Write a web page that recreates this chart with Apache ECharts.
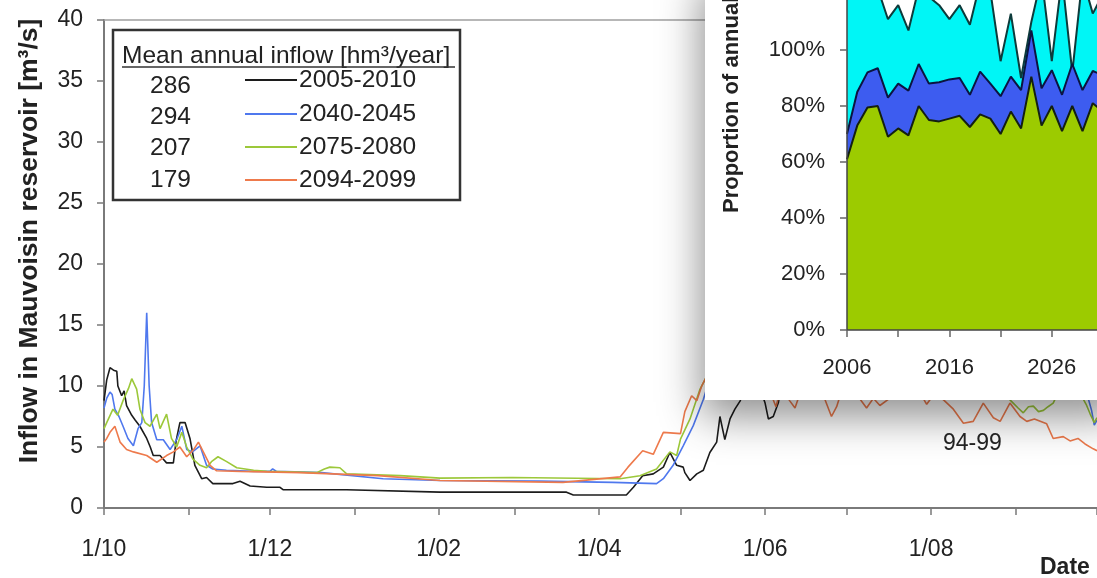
<!DOCTYPE html>
<html>
<head>
<meta charset="utf-8">
<script src="https://cdn.jsdelivr.net/npm/echarts@6/dist/echarts.min.js"></script>
<style>
html,body{margin:0;padding:0;background:#fff;}
#chart{width:1097px;height:578px;}
</style>
</head>
<body>
<div id="chart"></div>
<script>
// Days of the hydrological year (0 = 1 October) where each month starts
const monthStartDays = [0, 31, 61, 92, 123, 151, 182, 212, 243, 273, 304, 335, 365];
const dateLabelDays = [0, 61, 123, 182, 243, 304];
const dateLabels = ['1/10', '1/12', '1/02', '1/04', '1/06', '1/08'];

const periods = ['2005-2010', '2040-2045', '2075-2080', '2094-2099'];
const meanInflow = [286, 294, 207, 179];
const periodColors = ['#1c1c1c', '#4f78ee', '#9cc83a', '#ee7a4c'];

// Mean daily inflow [m3/s] as [day of hydrological year, value]
const flow2005 = [
  [0, 8.8], [1, 10.5], [2.2, 11.5], [3.5, 11.3], [4.7, 11.2], [5.1, 10.0], [6.5, 9.2], [7.4, 9.6],
  [8.3, 8.4], [10.2, 7.6], [11.5, 7.2], [13.2, 6.7], [15.7, 5.7], [17, 5.0], [18.1, 4.3], [20.6, 4.3],
  [21.8, 4.0], [23, 3.7], [25.5, 3.7], [26.5, 5.5], [27.9, 7.0], [29.8, 7.0], [31.6, 5.7], [33.4, 3.5],
  [35.9, 2.4], [37.7, 2.5], [40, 2.0], [44, 2.0], [47.4, 2.0], [50, 2.2], [53.7, 1.8], [59.8, 1.7],
  [64.7, 1.7], [65.8, 1.5], [89.2, 1.5], [89.7, 1.35], [123.5, 1.3], [170, 1.3], [172.5, 1.07],
  [192, 1.07], [194.6, 1.7], [198, 2.65], [201.9, 2.8], [205.6, 3.35], [208, 4.55], [210.5, 3.5],
  [212.9, 3.35], [213.5, 2.9], [215.4, 2.25], [217.9, 2.8], [220.3, 3.1], [222.7, 4.55], [225.2, 5.4],
  [226.4, 7.5], [228.2, 5.6], [230.1, 7.3], [231.9, 8.1], [233.9, 8.8], [236, 10.5], [238, 12],
  [240, 10.5], [243, 8.6], [244.2, 7.3], [246, 7.5], [247.9, 8.65], [250, 11.5], [253, 14], [256, 13],
  [259, 16], [262, 18], [266, 17], [270, 21], [274, 24], [278, 22], [282, 26], [286, 28], [290, 25],
  [294, 27], [298, 24], [302, 26], [306, 22], [310, 23], [314, 20], [318, 21], [322, 18], [326, 19],
  [330, 16], [334, 17], [338, 14], [342, 15], [346, 13], [350, 13.5], [354, 12], [358, 12.5],
  [362, 11], [365, 10.5]
];
const flow2040 = [
  [0, 8.2], [1, 9.0], [2.2, 9.5], [3, 9.3], [4, 8.1], [5.5, 7.5], [7, 6.7], [8.8, 5.7], [10.8, 5.1],
  [12.5, 6.5], [13.9, 7.0], [14.8, 10], [15.7, 16.0], [16.6, 10], [17.5, 7.0], [19.4, 5.6], [21.8, 5.6],
  [24.3, 4.8], [26.7, 5.6], [28.6, 6.7], [30.4, 4.8], [32.5, 4.6], [35.3, 5.1], [37.7, 3.5], [40, 3.2],
  [45, 3.1], [55, 3.0], [61, 3.0], [62, 3.2], [63.4, 3.0], [80, 2.9], [102.6, 2.4], [123.5, 2.25],
  [160, 2.2], [187, 2.1], [203.1, 2.0], [205.6, 2.4], [209.2, 3.5], [212.9, 5.1], [216.6, 6.75],
  [220.3, 8.9], [222.5, 10.5], [225, 12], [228, 13.5], [231, 15], [235, 17], [239, 19], [243, 18],
  [247, 21], [251, 23], [255, 22], [260, 25], [265, 27], [270, 26], [275, 28], [280, 25], [285, 26],
  [290, 23], [295, 24], [300, 21], [305, 22], [310, 19], [315, 20], [320, 17], [325, 16], [330, 14],
  [335, 13], [340, 12], [345, 11.5], [350, 11], [355, 10.5], [359, 10], [361.5, 9.2], [363, 8.0],
  [364, 6.8], [365, 7.2]
];
const flow2075 = [
  [0, 6.5], [1, 7.0], [3.3, 8.1], [5, 7.6], [7, 8.8], [9, 9.8], [10.2, 10.6], [12, 9.75], [13.2, 8.1],
  [15.1, 7.0], [16.9, 6.7], [19.4, 7.7], [20.6, 6.5], [23, 7.7], [24.8, 5.7], [26.7, 5.0], [28.6, 6.2],
  [30.4, 5.0], [32.7, 4.0], [35.3, 3.5], [37.7, 3.3], [39.5, 3.8], [41.9, 4.2], [45.1, 3.8], [48.8, 3.3],
  [55, 3.1], [59.8, 3.0], [78.2, 2.9], [81, 3.2], [83, 3.35], [86.7, 3.3], [89.2, 2.8], [108.8, 2.65],
  [123.5, 2.45], [150, 2.5], [189.7, 2.4], [197, 2.65], [203.1, 3.2], [208, 4.6], [210.5, 4.3],
  [211.9, 5.65], [215.4, 7.3], [219.1, 9.75], [222, 11], [225, 12.5], [228, 14], [232, 15], [236, 17],
  [240, 16], [244, 18], [248, 19], [252, 18], [256, 20], [260, 21], [265, 19], [270, 20], [275, 18],
  [280, 18.5], [285, 16], [290, 17], [295, 15], [300, 14.5], [305, 13], [310, 12.5], [315, 11.5],
  [320, 11], [325, 10.5], [329, 9.8], [331.5, 9.2], [334.2, 8.6], [336, 8.2], [337.9, 7.8], [339.8, 8.3],
  [341.6, 8.35], [343.5, 7.9], [345.3, 8.0], [347, 8.3], [348.9, 8.6], [351, 9.6], [354, 10.2],
  [357, 9.8], [359.5, 9.1], [361, 8.5], [362.5, 7.7], [364, 7.0], [365, 7.4]
];
const flow2094 = [
  [0, 5.4], [1, 5.7], [2.2, 6.2], [4, 6.7], [5.9, 5.4], [8.3, 4.8], [10.8, 4.6], [15.7, 4.3],
  [19.4, 3.75], [23, 4.3], [25.5, 4.6], [27.9, 5.0], [30.4, 4.2], [33, 4.8], [34.7, 5.4], [36.5, 4.6],
  [39, 3.5], [41.4, 3.05], [50, 3.0], [72, 2.9], [100.7, 2.65], [123.5, 2.25], [168.7, 2.1],
  [189.7, 2.55], [192.6, 3.35], [198, 4.7], [201.9, 4.4], [205.6, 6.2], [211.9, 6.1], [213.5, 7.9],
  [216, 9.2], [217.9, 8.8], [219.7, 10], [222, 11], [225, 10.5], [228, 12], [232, 11], [236, 12.5],
  [240, 11.5], [244, 10], [247, 8.3], [249, 10], [252, 8.8], [254, 8.2], [256, 9.5], [259, 11],
  [262, 10], [265, 8.9], [267.4, 7.5], [269.3, 8.3], [271, 9.5], [274, 10.5], [277, 9.2], [280.3, 8.2],
  [282.8, 9.0], [285.2, 8.4], [288.9, 9.0], [292, 10], [296, 9.5], [299, 9.8], [302.4, 8.5], [305, 9.3],
  [308.4, 8.9], [312.2, 8.1], [315.9, 6.95], [319.5, 7.1], [323.2, 8.6], [326.9, 7.4], [329.4, 7.1],
  [333, 8.6], [336.7, 7.5], [339.2, 7.1], [342, 7.3], [346.5, 6.9], [348.9, 5.7], [352.6, 5.85],
  [355.1, 5.5], [358, 5.7], [360.6, 5.25], [363.6, 4.85], [365, 4.7]
];
const flowSeries = [flow2005, flow2040, flow2075, flow2094];

// Inset: cumulative proportion of annual inflow [%], upper edge of each band
const insetYears = [2006, 2007, 2008, 2009, 2010, 2011, 2012, 2013, 2014, 2015, 2016, 2017, 2018,
  2019, 2020, 2021, 2022, 2023, 2024, 2025, 2026, 2027, 2028, 2029, 2030, 2031];
const shareGreenTop = [61, 73, 79.5, 80, 69, 72, 69.5, 80, 75, 74.5, 75.5, 76.5, 72.5,
  77, 75.5, 70, 78, 72, 90.5, 73, 80, 71, 80, 71, 81, 78];
const shareBlueTop = [70, 85, 92, 93.5, 83, 88, 85.5, 95, 88, 88.5, 89.5, 90, 84,
  92.3, 88, 83.5, 90.5, 85.7, 107, 86.3, 92.8, 84, 95, 85.7, 92.5, 91];
const shareCyanTop = [126, 120, 125, 122, 111, 116, 107, 122, 119, 116, 111, 116, 109,
  124, 121, 96, 113, 90, 110, 126, 96, 126, 92, 126, 113, 120];
const insetTickYears = [2006, 2011, 2016, 2021, 2026, 2031];
const insetLabelYears = [2006, 2016, 2026];

const FONT = '"Liberation Sans", Arial, sans-serif';
const chart = echarts.init(document.getElementById('chart'));

const mainSeries = [1, 2, 3, 0].map(i => ({
  type: 'line',
  name: periods[i],
  xAxisIndex: 0, yAxisIndex: 0,
  data: flowSeries[i],
  showSymbol: false, symbol: 'none',
  lineStyle: { color: periodColors[i], width: 1.6 },
  z: 2 + i,
  silent: true
}));

const bandDefs = [
  { top: shareCyanTop, fill: '#00f6f6', line: '#0d3b3b', z: 21 },
  { top: shareBlueTop, fill: '#3d5cf0', line: '#0b1440', z: 22 },
  { top: shareGreenTop, fill: '#9ccb00', line: '#142010', z: 23 }
];
const insetSeries = bandDefs.map(b => ({
  type: 'line',
  xAxisIndex: 1, yAxisIndex: 1,
  data: insetYears.map((y, k) => [y, b.top[k]]),
  showSymbol: false, symbol: 'none',
  lineStyle: { color: b.line, width: 2 },
  areaStyle: { color: b.fill, opacity: 1, origin: 'start' },
  z: b.z, silent: true
}));

// Legend block: mean annual inflow per period
const legendRowsY = [80, 114, 147, 180];
const legendNumY = [86, 117, 148, 180];
const LEG_FONT = '24.5px ' + FONT;
const legendGraphics = [
  { type: 'rect', shape: { x: 113, y: 30, width: 347, height: 170 }, style: { fill: '#fff', stroke: '#333', lineWidth: 2.5 }, z: 5 },
  { type: 'text', x: 122, y: 56, style: { text: 'Mean annual inflow [hm³/year]', font: LEG_FONT, fill: '#222', textAlign: 'left', textVerticalAlign: 'middle' }, z: 6 },
  { type: 'line', shape: { x1: 122, y1: 67, x2: 455, y2: 67 }, style: { stroke: '#333', lineWidth: 1.3 }, z: 6 }
];
periods.forEach((p, i) => {
  legendGraphics.push(
    { type: 'text', x: 150, y: legendNumY[i], style: { text: String(meanInflow[i]), font: LEG_FONT, fill: '#222', textAlign: 'left', textVerticalAlign: 'middle' }, z: 6 },
    { type: 'line', shape: { x1: 245, y1: legendRowsY[i], x2: 297, y2: legendRowsY[i] }, style: { stroke: periodColors[i], lineWidth: 2 }, z: 6 },
    { type: 'text', x: 299, y: legendRowsY[i], style: { text: p, font: LEG_FONT, fill: '#222', textAlign: 'left', textVerticalAlign: 'middle' }, z: 6 }
  );
});

const option = {
  animation: false,
  backgroundColor: '#fff',
  grid: [
    { left: 104, top: 20, right: 0, bottom: 70, outerBoundsMode: 'none', containLabel: false },
    { left: 847, top: -62, width: 256, height: 392, outerBoundsMode: 'none', containLabel: false, z: 20 }
  ],
  xAxis: [
    {
      type: 'value', gridIndex: 0, min: 0, max: 365,
      axisLine: { show: true, lineStyle: { color: '#7a7a7a', width: 2 } },
      axisTick: { show: true, customValues: monthStartDays, length: 7, lineStyle: { color: '#7a7a7a', width: 1.5 } },
      axisLabel: {
        customValues: dateLabelDays, margin: 30,
        formatter: v => dateLabels[dateLabelDays.indexOf(Math.round(v))] || '',
        fontFamily: FONT, fontSize: 23, color: '#222'
      },
      splitLine: { show: false }
    },
    {
      type: 'value', gridIndex: 1, min: 2006, max: 2031, z: 25,
      axisLine: { show: true, onZero: false, lineStyle: { color: '#444', width: 1.5 } },
      axisTick: { show: true, customValues: insetTickYears, length: 7, lineStyle: { color: '#666', width: 1.5 } },
      axisLabel: {
        customValues: insetLabelYears, margin: 27,
        formatter: v => String(Math.round(v)),
        fontFamily: FONT, fontSize: 22, color: '#222'
      },
      splitLine: { show: false }
    },
    {
      // upper frame line of the main plot
      type: 'value', gridIndex: 0, position: 'top', min: 0, max: 365,
      axisLine: { show: true, lineStyle: { color: '#a0a0a0', width: 1.5 } },
      axisTick: { show: false }, axisLabel: { show: false }, splitLine: { show: false }
    }
  ],
  yAxis: [
    {
      type: 'value', gridIndex: 0, min: 0, max: 40, interval: 5,
      axisLine: { show: true, lineStyle: { color: '#7a7a7a', width: 2 } },
      axisTick: { show: true, length: 7, lineStyle: { color: '#7a7a7a', width: 1.5 } },
      axisLabel: { margin: 21, fontFamily: FONT, fontSize: 23, color: '#222' },
      splitLine: { show: false }
    },
    {
      type: 'value', gridIndex: 1, min: 0, max: 140, interval: 20, z: 25,
      axisLine: { show: true, lineStyle: { color: '#444', width: 1.5 } },
      axisTick: { show: true, length: 7, lineStyle: { color: '#666', width: 1.5 } },
      axisLabel: { margin: 22, formatter: '{value}%', fontFamily: FONT, fontSize: 22, color: '#222' },
      splitLine: { show: false }
    }
  ],
  series: mainSeries.concat(insetSeries),
  graphic: {
    elements: legendGraphics.concat([
      // axis titles and period tag
      { type: 'text', x: 30, y: 241, rotation: Math.PI / 2, style: { text: 'Inflow in Mauvoisin reservoir [m³/s]', font: 'bold 26.5px ' + FONT, fill: '#222', textAlign: 'center', textVerticalAlign: 'middle' }, z: 6 },
      { type: 'text', x: 1040, y: 568, style: { text: 'Date', font: 'bold 23px ' + FONT, fill: '#222', textAlign: 'left', textVerticalAlign: 'middle' }, z: 6 },
      { type: 'text', x: 943, y: 444, style: { text: '94-99', font: '23px ' + FONT, fill: '#222', textAlign: 'left', textVerticalAlign: 'middle' }, z: 12 },
      // inset panel with drop shadow
      { type: 'rect', shape: { x: 705, y: -30, width: 420, height: 430 }, style: { fill: '#fff', shadowBlur: 40, shadowOffsetX: -3, shadowOffsetY: 16, shadowColor: 'rgba(0,0,0,0.45)' }, z: 10 },
      { type: 'text', x: 732, y: 213, rotation: Math.PI / 2, style: { text: 'Proportion of annual inflow', font: 'bold 22px ' + FONT, fill: '#222', textAlign: 'left', textVerticalAlign: 'middle' }, z: 26 }
    ])
  }
};
chart.setOption(option);
</script>
</body>
</html>
